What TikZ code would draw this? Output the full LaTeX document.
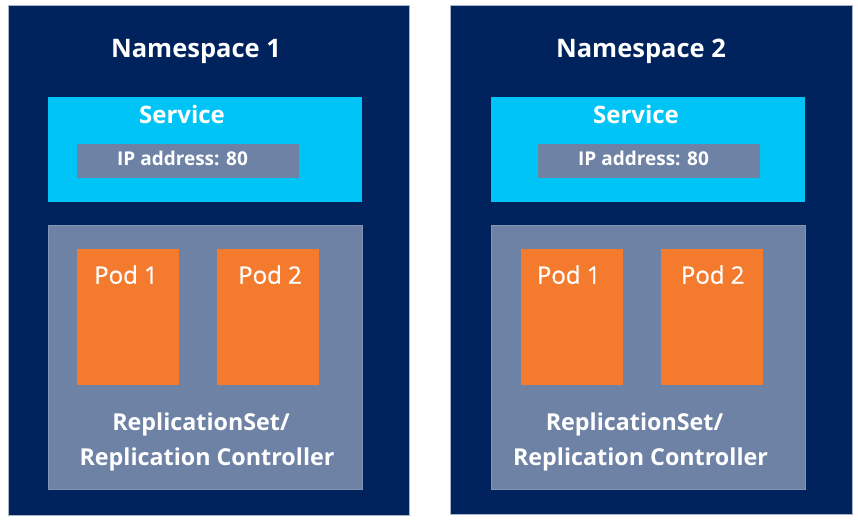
\documentclass[tikz,border=0pt]{standalone}
\usepackage{fontspec}
\setmainfont{Open Sans}
\newfontfamily\podfont{Open Sans}[FakeBold=0.7]
\definecolor{navy}{RGB}{0,34,93}
\definecolor{svcblue}{RGB}{0,196,245}
\definecolor{slate}{RGB}{110,130,166}
\definecolor{podorange}{RGB}{244,123,46}
\tikzset{
	box/.style	= {rectangle, anchor=north west, inner sep=0pt, outer sep=0pt},
	panel/.style	= {box, fill=navy, draw=slate!60, line width=0.7pt, minimum height=510},
	svcbox/.style	= {box, fill=svcblue, minimum width=314, minimum height=105.6},
	ipbox/.style	= {box, fill=slate, minimum width=221.4, minimum height=33.7},
	rsbox/.style	= {box, fill=slate, draw=slate!85!white, line width=0.5pt, minimum width=314.4, minimum height=264.3},
	podbox/.style	= {box, fill=podorange, minimum width=102, minimum height=135.4},
	txt/.style	= {inner sep=0pt, text=white, anchor=base},
	nstext/.style	= {txt, font=\bfseries\fontsize{25.5}{30}\selectfont},
	svctext/.style	= {txt, font=\bfseries\fontsize{24}{28}\selectfont},
	iptext/.style	= {txt, font=\bfseries\fontsize{19}{23}\selectfont},
	podtext/.style	= {txt, anchor=base west, font=\podfont\fontsize{24}{28}\selectfont},
	rstext/.style	= {txt, font=\bfseries\fontsize{23.3}{28}\selectfont}
}
\begin{document}
\begin{tikzpicture}[x=1pt, y=-1pt]
	\useasboundingbox[fill=white] (0,0) rectangle (858,522);
	% namespace 1
	\node (NS1) at (  8.0,   5.0)	[panel, minimum width=401]	{};
	\node (S1)  at ( 48.3,  96.7)	[svcbox]	{};
	\node (IP1) at ( 77.3, 144.0)	[ipbox]		{};
	\node (RS1) at ( 48.3, 225.0)	[rsbox]		{};
	\node (P11) at ( 77.3, 249.3)	[podbox]	{};
	\node (P12) at (217.3, 249.3)	[podbox]	{};
	\node (NT1) at (196.0,  57.7)	[nstext]	{Namespace 1};
	\node (ST1) at (182.0, 123.5)	[svctext]	{Service};
	\node (IT1) at (182.5, 165.0)	[iptext]	{IP address: 80};
	\node (PT11) at ( 94.0, 283.7)	[podtext]	{Pod 1};
	\node (PT12) at (238.0, 283.7)	[podtext]	{Pod 2};
	\node (RA1) at (201.0, 430.0)	[rstext]	{ReplicationSet/};
	\node (RB1) at (207.0, 465.5)	[rstext]	{Replication Controller};
	% namespace 2
	\node (NS2) at (450.7,   5.0)	[panel, minimum width=402, minimum height=509]	{};
	\node (S2)  at (491.0,  96.7)	[svcbox]	{};
	\node (IP2) at (538.3, 144.0)	[ipbox]		{};
	\node (RS2) at (491.0, 225.0)	[rsbox]		{};
	\node (P21) at (521.0, 249.3)	[podbox]	{};
	\node (P22) at (661.0, 249.3)	[podbox]	{};
	\node (NT2) at (641.0,  57.7)	[nstext]	{Namespace 2};
	\node (ST2) at (636.0, 123.5)	[svctext]	{Service};
	\node (IT2) at (643.5, 165.0)	[iptext]	{IP address: 80};
	\node (PT21) at (536.7, 283.7)	[podtext]	{Pod 1};
	\node (PT22) at (680.7, 283.7)	[podtext]	{Pod 2};
	\node (RA2) at (634.5, 430.0)	[rstext]	{ReplicationSet/};
	\node (RB2) at (640.5, 465.5)	[rstext]	{Replication Controller};
\end{tikzpicture}
\end{document}
